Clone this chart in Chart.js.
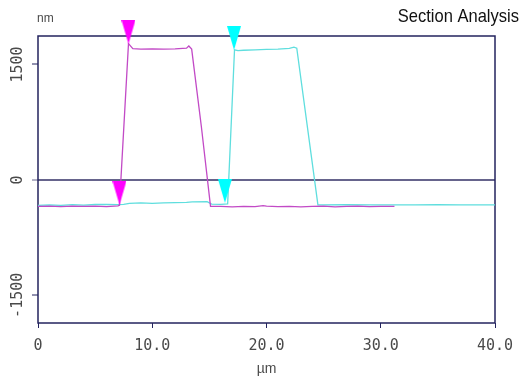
<!DOCTYPE html>
<html>
<head>
<meta charset="utf-8">
<script src="https://cdn.jsdelivr.net/npm/chart.js@4.4.0/dist/chart.umd.min.js"></script>
<style>
  html, body { margin: 0; padding: 0; background: #fff; }
</style>
</head>
<body>
<canvas id="grafico" width="528" height="379"></canvas>
<script>
// perfil 1 (magenta) - posicao em um, altura em nm
const perfil1X = [0, 1, 2, 3, 4, 5, 6, 7.0, 7.13, 7.92, 8.3, 9, 10, 11, 12, 13, 13.2, 13.45, 14.3, 15.1,
  16, 17, 18, 19, 19.7, 20, 21, 22, 23, 24, 25, 26, 27, 28, 29, 30, 31.2];
const perfil1Y = [-345, -340, -348, -342, -345, -340, -347, -338, -330, 1770, 1705, 1700, 1702, 1700, 1703, 1712, 1740, 1700, 690, -345,
  -345, -350, -345, -348, -335, -342, -347, -345, -350, -345, -340, -350, -345, -342, -348, -345, -345];

// perfil 2 (ciano)
const perfil2X = [0, 1, 2, 3, 4, 5, 6, 7, 7.5, 8, 9, 10, 11, 12, 13, 13.5, 14.8, 15.2, 16, 16.6, 17.2, 17.5,
  18, 19, 20, 21, 22, 22.4, 22.65, 24.5, 25, 27, 29, 31, 33, 35, 37, 40];
const perfil2Y = [-330, -325, -330, -322, -328, -320, -318, -322, -318, -305, -300, -305, -300, -296, -292, -285, -282, -315, -318, -312, 1690, 1680,
  1685, 1690, 1695, 1700, 1710, 1725, 1712, -325, -325, -323, -326, -324, -325, -323, -325, -325];

// cursores (ponta do triangulo)
const cursor1X = [7.13, 7.92];
const cursor1Y = [-325, 1766];
const cursor2X = [16.36, 17.16];
const cursor2Y = [-299, 1688];

const xTicks = [0, 10, 20, 30, 40];
const yTicks = [-1500, 0, 1500];

const corMoldura = '#23235e';
const corZero = '#66648c';
const corTexto = '#4a4a4a';

function pontos(xs, ys) {
  return xs.map((x, i) => ({ x: x, y: ys[i] }));
}

// triangulo apontando para baixo, com a ponta no centro da imagem
function triangulo(cor) {
  const c = document.createElement('canvas');
  c.width = 14;
  c.height = 48;
  const g = c.getContext('2d');
  g.fillStyle = cor;
  g.beginPath();
  g.moveTo(0, 0);
  g.lineTo(14, 0);
  g.lineTo(7, 24);
  g.closePath();
  g.fill();
  return c;
}

const moldura = {
  id: 'moldura',
  beforeDatasetsDraw(chart) {
    const a = chart.chartArea;
    const ctx = chart.ctx;
    ctx.save();
    ctx.strokeStyle = corMoldura;
    ctx.lineWidth = 1.5;
    ctx.strokeRect(a.left, a.top, a.right - a.left, a.bottom - a.top);
    ctx.restore();
  },
  afterDraw(chart) {
    const ctx = chart.ctx;
    const escalaY = chart.scales.y;
    ctx.save();

    // rotulos do eixo y, girados
    ctx.font = '15px "DejaVu Sans Mono"';
    ctx.fillStyle = corTexto;
    ctx.textAlign = 'center';
    ctx.textBaseline = 'middle';
    yTicks.forEach(v => {
      const py = escalaY.getPixelForValue(v);
      ctx.save();
      ctx.translate(18, py);
      ctx.rotate(-Math.PI / 2);
      ctx.fillText(String(v), 0, 0);
      ctx.restore();
    });

    // unidade do eixo y
    ctx.font = '12px "Liberation Sans"';
    ctx.textAlign = 'left';
    ctx.textBaseline = 'alphabetic';
    ctx.fillText('nm', 37, 22);

    // titulo
    ctx.fillStyle = '#111';
    ctx.font = '19px "Liberation Sans"';
    ctx.textAlign = 'right';
    ctx.translate(519, 22);
    ctx.scale(0.87, 1);
    ctx.fillText('Section Analysis', 0, 0);
    ctx.restore();
  }
};

const ctx = document.getElementById('grafico').getContext('2d');
new Chart(ctx, {
  type: 'line',
  data: {
    datasets: [
      {
        data: pontos(cursor1X, cursor1Y),
        showLine: false,
        pointStyle: triangulo('#ff00ff'),
        clip: false,
        order: 0
      },
      {
        data: pontos(cursor2X, cursor2Y),
        showLine: false,
        pointStyle: triangulo('#00ffff'),
        clip: false,
        order: 0
      },
      {
        data: pontos(perfil1X, perfil1Y),
        borderColor: '#c24ac6',
        borderWidth: 1.3,
        pointRadius: 0,
        tension: 0,
        order: 1
      },
      {
        data: pontos(perfil2X, perfil2Y),
        borderColor: '#5fdede',
        borderWidth: 1.3,
        pointRadius: 0,
        tension: 0,
        order: 2
      }
    ]
  },
  options: {
    responsive: false,
    animation: false,
    layout: {
      padding: { top: 36, right: 33, left: 0, bottom: 0 }
    },
    plugins: {
      legend: { display: false },
      tooltip: { enabled: false }
    },
    scales: {
      x: {
        type: 'linear',
        min: 0,
        max: 40,
        afterBuildTicks: s => { s.ticks = xTicks.map(v => ({ value: v })); },
        afterFit: s => { s.height = 56; },
        border: { display: false },
        grid: {
          drawOnChartArea: false,
          drawTicks: true,
          tickLength: 5,
          tickColor: corMoldura
        },
        ticks: {
          padding: 9,
          color: corTexto,
          font: { family: 'DejaVu Sans Mono', size: 15 },
          maxRotation: 0,
          callback: v => (v === 0 ? '0' : v.toFixed(1))
        },
        title: {
          display: true,
          text: 'µm',
          color: corTexto,
          font: { family: 'Liberation Sans', size: 14 },
          padding: { top: 4, bottom: 1 }
        }
      },
      y: {
        type: 'linear',
        min: -1860,
        max: 1870,
        afterBuildTicks: s => { s.ticks = yTicks.map(v => ({ value: v })); },
        afterFit: s => { s.width = 38; },
        border: { display: false },
        grid: {
          drawOnChartArea: true,
          color: c => (c.tick && c.tick.value === 0 ? corZero : 'rgba(0,0,0,0)'),
          lineWidth: 2,
          drawTicks: true,
          tickLength: 6,
          tickWidth: 1,
          tickColor: c => (c.tick && c.tick.value === 0 ? corZero : corMoldura)
        },
        ticks: { display: false }
      }
    }
  },
  plugins: [moldura]
});
</script>
</body>
</html>
